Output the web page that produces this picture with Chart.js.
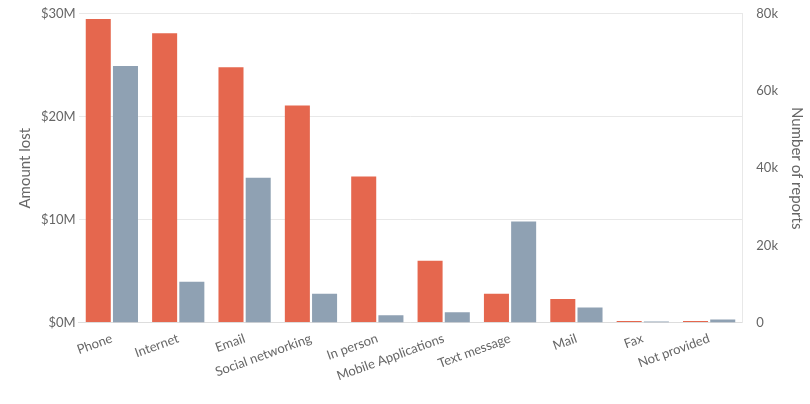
<!DOCTYPE html>
<html>
<head>
<meta charset="utf-8">
<script src="https://cdn.jsdelivr.net/npm/chart.js@4"></script>
<style>
  body { margin: 0; background: #fff; }
  #wrap { width: 810px; height: 404px; }
</style>
</head>
<body>
<div id="wrap"><canvas id="chart"></canvas></div>
<script>
const categories = ['Phone', 'Internet', 'Email', 'Social networking', 'In person',
    'Mobile Applications', 'Text message', 'Mail', 'Fax', 'Not provided'];
const amountLost = [29.5, 28.1, 24.8, 21.1, 14.2, 6.0, 2.8, 2.3, 0.15, 0.15];
const reportCount = [66.5, 10.6, 37.5, 7.5, 1.9, 2.7, 26.2, 3.9, 0.3, 0.8];

const grey = '#666';
const font = { family: 'Lato', size: 13 };

new Chart(document.getElementById('chart'), {
    type: 'bar',
    data: {
        labels: categories,
        datasets: [{
            label: 'Amount lost',
            data: amountLost,
            backgroundColor: '#E5674E',
            yAxisID: 'y'
        }, {
            label: 'Number of reports',
            data: reportCount,
            backgroundColor: '#8FA1B3',
            yAxisID: 'y1'
        }]
    },
    options: {
        responsive: true,
        maintainAspectRatio: false,
        animation: false,
        categoryPercentage: 0.82,
        barPercentage: 0.92,
        layout: { padding: { top: 0, left: 12, right: 0, bottom: 20 } },
        plugins: { legend: { display: false }, tooltip: { enabled: false } },
        scales: {
            x: {
                grid: { display: false },
                border: { color: '#ddd' },
                ticks: { color: grey, font, minRotation: 20, maxRotation: 20, padding: 0 }
            },
            y: {
                min: 0, max: 30,
                ticks: { stepSize: 10, color: grey, font, callback: v => '$' + v + 'M' },
                grid: { color: '#e8e8e8', drawTicks: false },
                border: { display: false },
                title: { display: true, text: 'Amount lost', color: grey, font: { family: 'Lato', size: 15 } }
            },
            y1: {
                position: 'right',
                min: 0, max: 80,
                ticks: { stepSize: 20, color: grey, font, callback: v => v === 0 ? '0' : v + 'k', padding: 6 },
                grid: { display: false },
                border: { color: '#e8e8e8' },
                title: { display: true, text: 'Number of reports', color: grey, font: { family: 'Lato', size: 15 } }
            }
        }
    }
});
</script>
</body>
</html>
